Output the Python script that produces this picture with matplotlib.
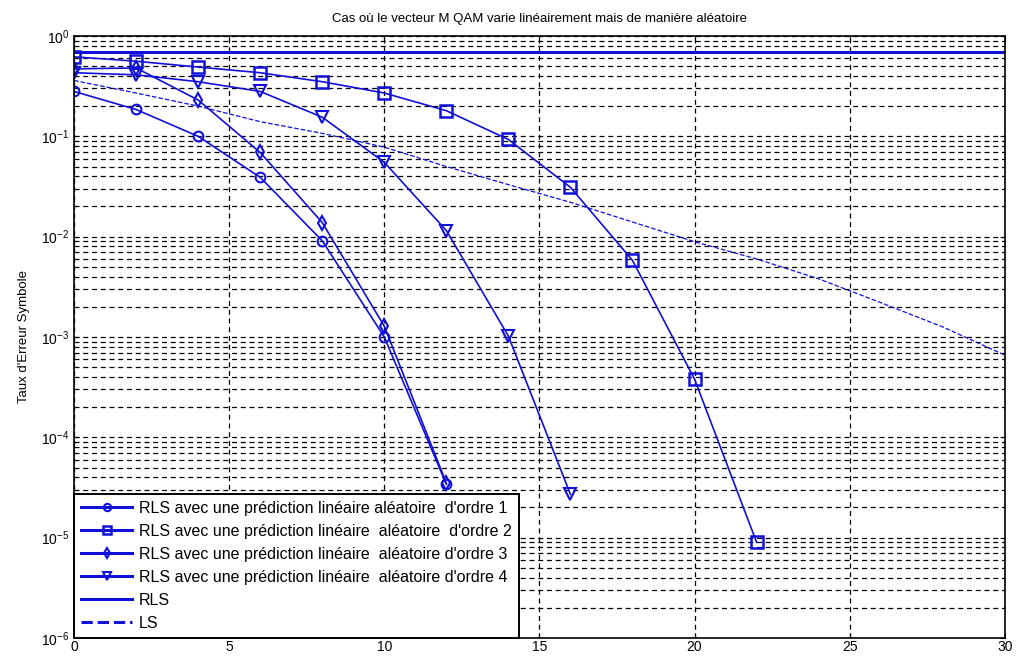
import numpy as np
import matplotlib.pyplot as plt
from matplotlib.ticker import FixedLocator, NullFormatter

plt.rcParams['font.family'] = ['Liberation Sans', 'DejaVu Sans']

# DONNEES

snr = [0, 2, 4, 6, 8, 10, 12, 14, 16, 18, 20, 22]

ser_ordre1 = [0.28, 0.185, 0.10, 0.039, 0.0091, 0.0010, 3.4e-5]
ser_ordre2 = [0.62, 0.56, 0.49, 0.43, 0.35, 0.27, 0.18, 0.093, 0.031, 0.0058, 3.8e-4, 9.0e-6]
ser_ordre3 = [0.47, 0.48, 0.23, 0.069, 0.0138, 0.00128, 3.5e-5]
ser_ordre4 = [0.43, 0.41, 0.35, 0.28, 0.155, 0.055, 0.0115, 0.00102, 2.7e-5]

snr_ref = [0, 2, 4, 6, 8, 10, 12, 14, 16, 18, 20, 22, 24, 26, 28, 30]
ser_rls = [0.70] * len(snr_ref)
ser_ls = [0.36, 0.27, 0.20, 0.14, 0.107, 0.078, 0.050, 0.033, 0.022, 0.014,
          0.0089, 0.006, 0.0038, 0.0022, 0.00126, 0.00066]

labels = ["RLS avec une prédiction linéaire aléatoire  d'ordre 1",
          "RLS avec une prédiction linéaire  aléatoire  d'ordre 2",
          "RLS avec une prédiction linéaire  aléatoire d'ordre 3",
          "RLS avec une prédiction linéaire  aléatoire d'ordre 4",
          "RLS",
          "LS"]

# FIGURE

fig = plt.figure(figsize=(10.17, 6.66), dpi=100)
ax = fig.add_axes([0.0728, 0.042, 0.9152, 0.904])

bleu = '#1010d8'

ax.semilogy(snr[:len(ser_ordre1)], ser_ordre1, '-o', color=bleu, lw=1.2,
            ms=7, mfc='none', mew=1.5, label=labels[0])
ax.semilogy(snr[:len(ser_ordre2)], ser_ordre2, '-s', color=bleu, lw=1.2,
            ms=8, mfc='none', mew=1.8, label=labels[1])
ax.semilogy(snr[:len(ser_ordre3)], ser_ordre3, '-d', color=bleu, lw=1.2,
            ms=7, mfc='none', mew=1.5, label=labels[2])
ax.semilogy(snr[:len(ser_ordre4)], ser_ordre4, '-v', color=bleu, lw=1.2,
            ms=8, mfc='none', mew=1.5, label=labels[3])
ax.semilogy(snr_ref, ser_rls, '-', color=bleu, lw=2.2, label=labels[4])
ax.semilogy(snr_ref, ser_ls, '--', color=bleu, lw=0.9, label=labels[5])

ax.set_xlim(0, 30)
ax.set_ylim(1e-6, 1)
decades = 10.0 ** np.arange(-6, 1)
ax.xaxis.set_major_locator(FixedLocator([0, 5, 10, 15, 20, 25, 30]))
ax.yaxis.set_major_locator(FixedLocator(decades))
ax.yaxis.set_minor_locator(FixedLocator(np.outer(decades[:-1], np.arange(2, 10)).ravel()))
ax.yaxis.set_minor_formatter(NullFormatter())

ax.grid(True, which='major', ls=(0, (4, 3)), color='k', lw=0.9)
ax.grid(True, which='minor', axis='y', ls=(0, (4, 3)), color='k', lw=0.9)
ax.tick_params(direction='in', which='both', labelsize=10, top=True, right=True)
ax.tick_params(axis='x', pad=1.5)
ax.tick_params(which='minor', length=2)
for s in ax.spines.values():
    s.set_linewidth(1.2)

ax.set_title("Cas où le vecteur M QAM varie linéairement mais de manière aléatoire",
             fontsize=9.5, pad=10)
ax.set_ylabel("Taux d'Erreur Symbole", fontsize=9.5, labelpad=8)

leg = ax.legend(loc='lower left', fontsize=11.5, fancybox=False, framealpha=1,
                edgecolor='k', borderaxespad=0, handlelength=3.2,
                labelspacing=0.5, handletextpad=0.4, markerscale=0.75,
                borderpad=0.45)
leg.get_frame().set_linewidth(1.4)
for h in leg.get_lines():
    h.set_linewidth(2.2)

fig.savefig('out.png', dpi=100)
